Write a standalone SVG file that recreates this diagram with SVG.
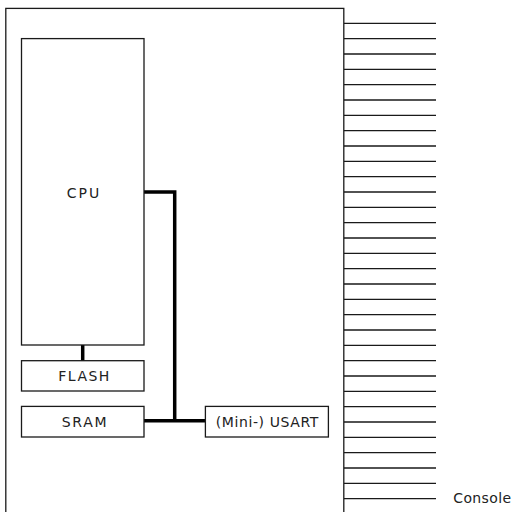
<svg xmlns="http://www.w3.org/2000/svg" width="514" height="512" viewBox="0 0 514 512">
<style>
.box{fill:#fff;stroke:#1a1a1a;stroke-width:1.3}
.pin{stroke:#1a1a1a;stroke-width:1.3;fill:none}
.bus{stroke:#000;stroke-width:3.5;fill:none;stroke-linejoin:miter}
text{font-family:"DejaVu Sans","Liberation Sans",sans-serif;font-size:14px;fill:#222}
.c{text-anchor:middle}
</style>
<rect width="514" height="512" fill="#fff"/>
<g id="chip"><rect class="box" x="5.8" y="8.4" width="338" height="520"/></g>
<g id="pins">
<path class="pin" d="M344 23.3H436M344 38.6H436M344 54H436M344 69.3H436M344 84.6H436M344 100H436M344 115.3H436M344 130.6H436M344 146H436M344 161.3H436M344 176.6H436M344 192H436M344 207.3H436M344 222.6H436M344 238H436M344 253.3H436M344 268.6H436M344 284H436M344 299.3H436M344 314.6H436M344 330H436M344 345.3H436M344 360.6H436M344 376H436M344 391.3H436M344 406.6H436M344 422H436M344 437.3H436M344 452.6H436M344 468H436M344 483.3H436M344 498.6H436"/>
</g>
<g id="connectors">
<path class="bus" d="M82.7 345V361"/>
<path class="bus" d="M144 192H174.7V420.7"/>
<path class="bus" d="M144 420.7H205.5"/>
</g>
<g id="cpu"><rect class="box" x="21.5" y="38.6" width="122.5" height="306.4"/><text class="c" x="83" y="197.5" textLength="32.6" lengthAdjust="spacing">CPU</text></g>
<g id="flash"><rect class="box" x="21.5" y="360.7" width="122.5" height="30.3"/><text class="c" x="83.8" y="381" textLength="51" lengthAdjust="spacing">FLASH</text></g>
<g id="sram"><rect class="box" x="21.5" y="406.4" width="122.5" height="30.6"/><text class="c" x="84.2" y="426.6" textLength="45" lengthAdjust="spacing">SRAM</text></g>
<g id="usart"><rect class="box" x="205.4" y="406.4" width="123" height="30.6"/><text class="c" x="267" y="427" textLength="102.7" lengthAdjust="spacing">(Mini-) USART</text></g>
<g id="console"><text x="453.3" y="503.3" textLength="57.7" lengthAdjust="spacing">Console</text></g>
</svg>
